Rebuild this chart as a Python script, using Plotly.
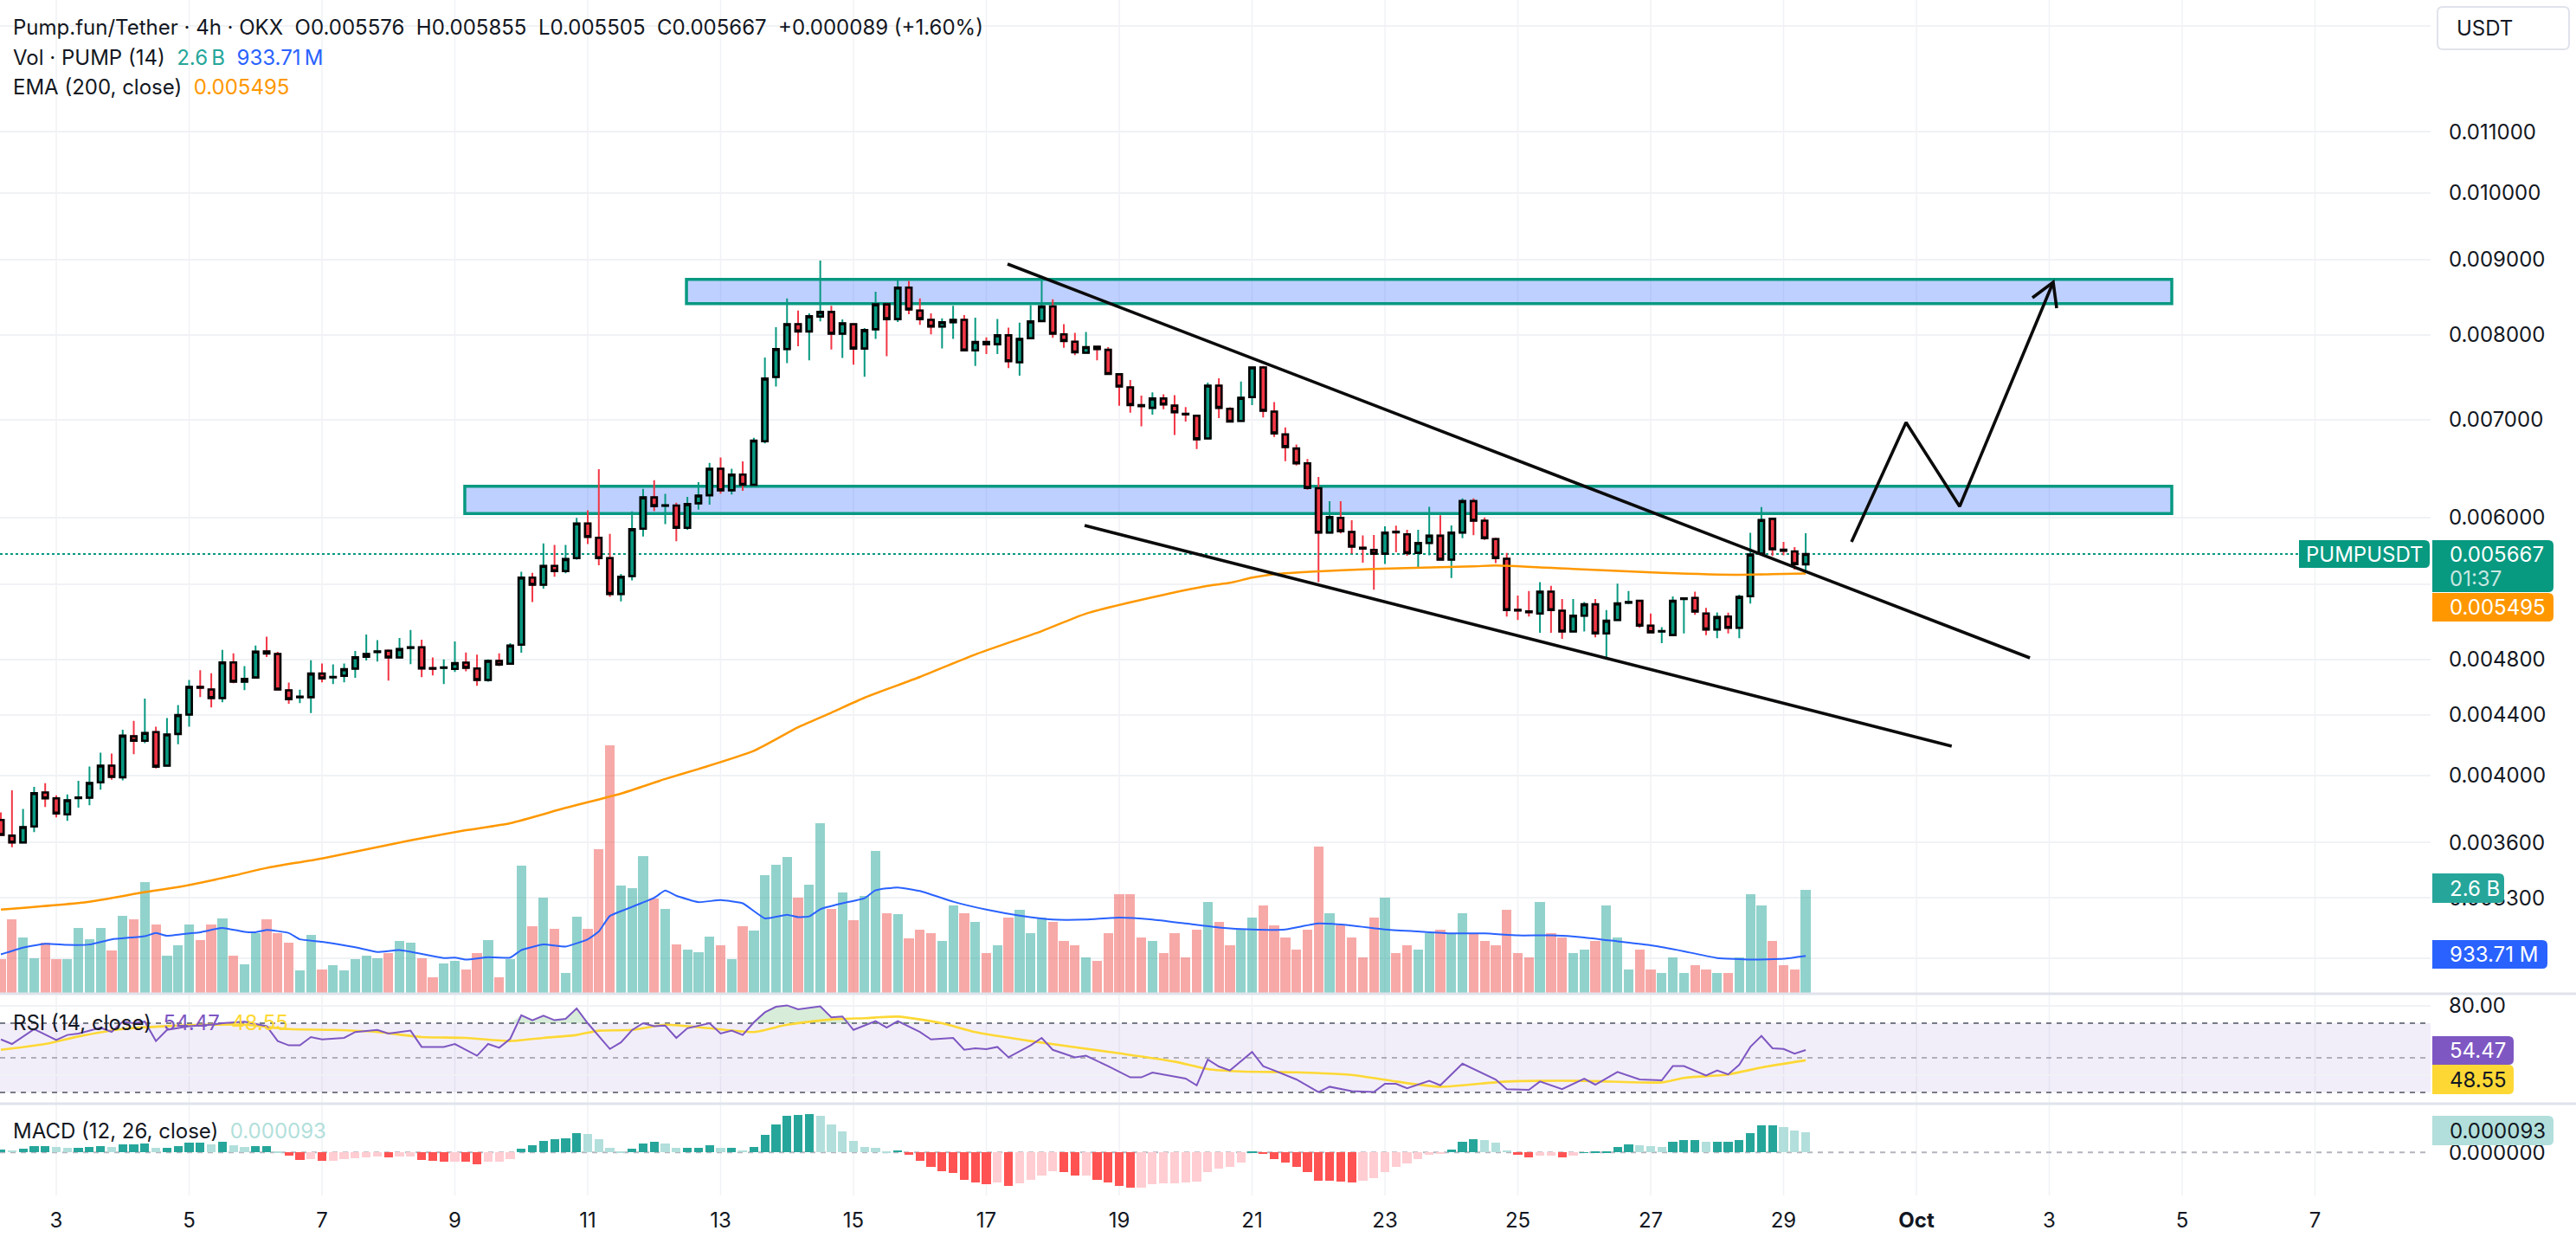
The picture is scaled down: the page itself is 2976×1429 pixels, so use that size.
import math
import pandas as pd
import plotly.graph_objects as go

# ------------------------------------------------------------------ data
START = "2025-09-02 04:00"   # open time of the first 4h bar
BAR_HOURS = 4

opens = [
0.003731,0.003640,0.003601,0.003693,0.003895,0.003860,0.003764,0.003861,0.003864,0.003958,
0.004063,0.003990,0.004255,0.004225,0.004283,0.004063,0.004271,0.004403,0.004598,0.004580,
0.004519,0.004779,0.004636,0.004667,0.004863,0.004843,0.004574,0.004525,0.004525,0.004696,
0.004669,0.004680,0.004733,0.004822,0.004858,0.004867,0.004816,0.004890,0.004894,0.004736,
0.004739,0.004730,0.004777,0.004734,0.004649,0.004790,0.004769,0.004914,0.005461,0.005400,
0.005562,0.005517,0.005630,0.005945,0.005813,0.005630,0.005322,0.005473,0.005897,0.006194,
0.006114,0.006116,0.005905,0.006137,0.006215,0.006479,0.006264,0.006420,0.006318,0.006766,
0.007484,0.007821,0.008132,0.008040,0.008231,0.008290,0.008011,0.008132,0.007827,0.008068,
0.008389,0.008198,0.008613,0.008308,0.008187,0.008102,0.008157,0.008187,0.007804,0.007907,
0.007880,0.007991,0.007659,0.007955,0.008172,0.008363,0.008003,0.007911,0.007776,0.007848,
0.007811,0.007517,0.007363,0.007160,0.007130,0.007236,0.007155,0.007064,0.007043,0.006796,
0.007384,0.007120,0.006985,0.007251,0.007597,0.007088,0.006838,0.006689,0.006535,0.006284,
0.005861,0.005998,0.005866,0.005722,0.005703,0.005670,0.005869,0.005845,0.005677,0.005766,
0.005832,0.005617,0.005861,0.006158,0.005971,0.005801,0.005625,0.005191,0.005178,0.005161,
0.005341,0.005184,0.005017,0.005143,0.005236,0.005002,0.005108,0.005250,0.005265,0.005063,
0.005017,0.004989,0.005280,0.005289,0.005161,0.005033,0.005136,0.005046,0.005303,0.005670,
0.005989,0.005705,0.005690,0.005576]

highs = [
0.003775,0.003909,0.003796,0.003930,0.003953,0.003878,0.003883,0.003967,0.004057,0.004147,
0.004141,0.004299,0.004359,0.004515,0.004319,0.004379,0.004469,0.004649,0.004720,0.004698,
0.004874,0.004848,0.004751,0.004907,0.004976,0.004859,0.004630,0.004578,0.004795,0.004771,
0.004764,0.004771,0.004865,0.004994,0.004949,0.004876,0.004966,0.005029,0.004953,0.004816,
0.004801,0.004940,0.004854,0.004837,0.004801,0.004848,0.004925,0.005511,0.005501,0.005762,
0.005749,0.005749,0.005998,0.006070,0.006474,0.005848,0.005493,0.006059,0.006278,0.006363,
0.006228,0.006143,0.006200,0.006344,0.006540,0.006594,0.006479,0.006555,0.006802,0.007718,
0.008095,0.008467,0.008308,0.008272,0.008988,0.008371,0.008194,0.008140,0.008084,0.008558,
0.008408,0.008724,0.008704,0.008467,0.008272,0.008206,0.008371,0.008250,0.008216,0.007964,
0.008198,0.008087,0.008151,0.008378,0.008764,0.008456,0.008132,0.008022,0.008033,0.007850,
0.007845,0.007520,0.007449,0.007268,0.007307,0.007284,0.007274,0.007140,0.007045,0.007419,
0.007470,0.007136,0.007432,0.007600,0.007615,0.007194,0.006914,0.006730,0.006580,0.006397,
0.006157,0.006157,0.005976,0.005834,0.005839,0.005919,0.005924,0.005887,0.005887,0.006102,
0.006023,0.005927,0.006184,0.006184,0.006002,0.005813,0.005677,0.005309,0.005346,0.005421,
0.005391,0.005280,0.005280,0.005255,0.005280,0.005189,0.005408,0.005346,0.005265,0.005161,
0.005051,0.005302,0.005289,0.005341,0.005206,0.005170,0.005167,0.005316,0.005858,0.006101,
0.005990,0.005775,0.005729,0.005855]

lows = [
0.003639,0.003574,0.003598,0.003660,0.003808,0.003746,0.003726,0.003804,0.003818,0.003912,
0.003975,0.003970,0.004137,0.004210,0.004045,0.004060,0.004203,0.004319,0.004525,0.004453,
0.004489,0.004625,0.004576,0.004660,0.004820,0.004578,0.004479,0.004483,0.004413,0.004631,
0.004619,0.004631,0.004665,0.004793,0.004786,0.004644,0.004812,0.004766,0.004670,0.004682,
0.004619,0.004708,0.004713,0.004606,0.004636,0.004751,0.004766,0.004852,0.005255,0.005366,
0.005468,0.005497,0.005617,0.005757,0.005567,0.005297,0.005260,0.005436,0.005826,0.006062,
0.005939,0.005782,0.005887,0.006076,0.006124,0.006230,0.006222,0.006259,0.006293,0.006742,
0.007373,0.007649,0.007855,0.007683,0.008167,0.007814,0.007711,0.007631,0.007487,0.007947,
0.007734,0.008160,0.008261,0.008124,0.008003,0.007827,0.007947,0.007800,0.007615,0.007759,
0.007759,0.007590,0.007501,0.007950,0.008165,0.007961,0.007837,0.007745,0.007770,0.007683,
0.007511,0.007153,0.007075,0.006926,0.007055,0.007114,0.006832,0.006978,0.006682,0.006790,
0.007017,0.006968,0.006980,0.007162,0.007023,0.006811,0.006556,0.006513,0.006270,0.005421,
0.005858,0.005853,0.005670,0.005591,0.005358,0.005578,0.005683,0.005651,0.005542,0.005655,
0.005612,0.005456,0.005809,0.005836,0.005793,0.005586,0.005136,0.005108,0.005136,0.005006,
0.005006,0.004960,0.005017,0.005017,0.004971,0.004816,0.005106,0.005236,0.005046,0.005011,
0.004926,0.004985,0.005002,0.005150,0.004988,0.004964,0.005002,0.004964,0.005243,0.005668,
0.005650,0.005655,0.005530,0.005505]

closes = [
0.003644,0.003601,0.003689,0.003891,0.003860,0.003769,0.003848,0.003865,0.003954,0.004063,
0.003992,0.004259,0.004225,0.004277,0.004057,0.004267,0.004399,0.004599,0.004592,0.004519,
0.004779,0.004636,0.004657,0.004861,0.004846,0.004580,0.004511,0.004528,0.004696,0.004661,
0.004671,0.004728,0.004818,0.004843,0.004862,0.004816,0.004880,0.004894,0.004734,0.004732,
0.004742,0.004773,0.004738,0.004649,0.004790,0.004763,0.004907,0.005461,0.005400,0.005562,
0.005517,0.005622,0.005945,0.005821,0.005630,0.005322,0.005468,0.005892,0.006194,0.006110,
0.006118,0.005905,0.006129,0.006212,0.006479,0.006264,0.006420,0.006318,0.006772,0.007466,
0.007821,0.008132,0.008040,0.008234,0.008290,0.008011,0.008143,0.007827,0.008057,0.008389,
0.008198,0.008613,0.008323,0.008198,0.008102,0.008157,0.008187,0.007804,0.007907,0.007880,
0.007991,0.007672,0.007947,0.008167,0.008363,0.008011,0.007921,0.007780,0.007845,0.007821,
0.007521,0.007373,0.007162,0.007150,0.007236,0.007168,0.007081,0.007058,0.006787,0.007384,
0.007130,0.006978,0.007243,0.007597,0.007098,0.006850,0.006705,0.006535,0.006287,0.005861,
0.006006,0.005874,0.005733,0.005715,0.005670,0.005861,0.005863,0.005675,0.005766,0.005832,
0.005617,0.005861,0.006158,0.005971,0.005809,0.005630,0.005189,0.005185,0.005172,0.005341,
0.005189,0.005017,0.005143,0.005236,0.005002,0.005102,0.005243,0.005254,0.005063,0.005011,
0.005020,0.005265,0.005284,0.005177,0.005033,0.005132,0.005046,0.005297,0.005662,0.005978,
0.005709,0.005696,0.005578,0.005667]

# volume per bar, in billions of PUMP
volume_b = [
0.86,1.86,1.39,0.87,1.26,0.86,0.86,1.64,1.35,1.64,
1.07,1.94,1.86,2.79,1.72,0.94,1.20,1.72,1.33,1.72,
1.88,0.94,0.72,1.51,1.86,1.51,1.27,0.57,1.46,0.59,
0.70,0.57,0.85,0.94,0.87,1.00,1.31,1.27,0.87,0.39,
0.74,0.81,0.59,1.00,1.33,0.39,0.85,3.20,1.68,2.40,
1.62,0.50,1.92,1.62,3.62,6.24,2.71,2.64,3.45,2.38,
2.12,1.22,1.09,1.03,1.42,1.20,0.85,1.68,1.57,2.97,
3.23,3.43,2.40,2.73,4.28,2.12,2.53,1.83,2.45,3.58,
2.01,1.99,1.38,1.6,1.5,1.3,2.2,2.0,1.8,1.0,
1.2,1.9,2.1,1.5,1.9,1.8,1.3,1.2,0.9,0.8,
1.5,2.5,2.5,1.4,1.3,1.0,1.5,0.9,1.6,2.3,
1.8,1.2,1.6,1.9,2.2,1.7,1.4,1.1,1.6,3.7,
2.0,1.7,1.4,0.9,1.9,2.4,1.0,1.2,1.1,1.5,
1.6,1.5,2.0,1.5,1.3,1.2,2.1,1.0,0.9,2.3,
1.5,1.4,1.0,1.1,1.3,2.2,1.4,0.6,1.1,0.6,
0.5,0.9,0.5,0.7,0.6,0.5,0.5,0.9,2.5,2.2,
1.3,0.7,0.6,2.6]

# volume MA(14), read at bar indices (billions)
volma_bar = [0,2,4,6,8,10,13,14,15,17,18,20,22,23,24,26,27,29,32,34,36,40,41,42,44,46,47,49,51,53,
             54,55,57,59,60,61,63,65,67,69,71,72,73,74,76,78,79,81,83,86,89,92,95,98,101,104,107,110,113,116,
             119,122,125,128,131,134,137,140,143,146,149,152,155,158,161,163]
volma_val = [0.97,1.14,1.24,1.21,1.22,1.35,1.43,1.51,1.44,1.50,1.53,1.64,1.54,1.53,1.59,1.51,1.35,1.29,1.15,1.03,
             1.08,0.88,0.89,0.84,0.90,0.89,1.08,1.22,1.17,1.35,1.55,1.94,2.17,2.40,2.58,2.45,2.29,2.34,2.26,1.88,
             1.97,1.91,1.93,2.11,2.26,2.39,2.59,2.66,2.57,2.30,2.10,1.95,1.85,1.85,1.90,1.85,1.75,1.65,1.60,1.60,
             1.75,1.70,1.60,1.55,1.50,1.50,1.45,1.45,1.40,1.30,1.20,1.05,0.88,0.84,0.86,0.93371]

# EMA(200, close), read at bar indices
ema_bar = [0,8,13,16,21,24,29,37,42,46,51,56,60,63,68,72,75,78,83,88,
           94,98,104,109,111,113,115,119,124,133,135,142,150,157,160,163]
ema_val = [0.003241,0.003281,0.003331,0.003357,0.003418,0.003460,0.003512,0.003613,0.003671,0.003712,
           0.003802,0.003889,0.003979,0.004042,0.004159,0.004316,0.004416,0.004521,0.004671,0.004839,
           0.005020,0.005160,0.005294,0.005391,0.005416,0.005460,0.005490,0.005515,0.005535,0.005558,
           0.005565,0.005535,0.005502,0.005485,0.005490,0.005495]

# RSI(14) and its MA, read at bar indices
rsi_bar = [0,1,3,5,6,7,9,10,11,12,13,14,15,17,19,20,22,24,25,26,27,28,29,31,32,34,35,37,38,40,
           41,43,44,45,46,47,48,49,50,51,52,53,55,56,57,58,59,60,61,62,64,65,66,67,68,69,70,71,72,74,
           75,76,77,79,80,81,83,84,86,87,88,89,90,91,93,94,95,97,98,100,102,103,104,106,107,108,109,110,111,113,
           114,115,117,119,120,122,124,125,126,127,129,130,132,135,136,138,139,141,143,144,146,148,150,151,152,154,155,156,157,158,
           159,160,161,162,163]
rsi_val = [60.6,58.0,66.6,60.3,63.2,64.0,67.4,65.0,70.9,70.0,70.9,59.7,66.1,68.3,69.1,70.0,70.9,68.3,59.7,57.2,
           57.2,62.0,60.6,61.5,64.9,66.1,64.0,65.7,56.3,56.3,58.0,51.2,58.0,55.8,61.0,74.6,71.7,74.3,71.7,72.5,
           78.5,70.0,55.1,58.9,66.0,70.0,68.3,68.6,61.5,67.1,70.0,64.0,65.7,63.2,70.5,76.3,79.5,80.3,78.0,79.7,
           73.4,73.9,66.1,71.2,67.4,71.2,64.9,60.6,61.5,54.6,55.5,55.0,56.3,50.3,57.2,61.5,54.6,50.3,51.2,45.2,
           38.7,38.7,41.5,39.2,38.0,34.1,49.0,45.0,42.7,53.4,45.2,42.7,37.5,30.2,33.3,30.7,30.2,35.0,35.0,32.4,
           36.7,34.1,46.6,37.5,31.9,31.5,36.3,31.9,38.0,34.5,41.8,37.5,37.0,45.2,45.2,39.8,42.7,40.4,46.0,56.3,
           62.6,55.5,55.1,52.4,54.47]
rsima_bar = [0,4,7,11,15,19,22,26,30,34,38,42,46,49,52,54,57,60,64,68,
             71,75,78,81,85,88,93,101,106,109,112,117,122,126,130,136,143,150,152,156,159,163]
rsima_val = [54.6,58.0,62.3,66.6,68.3,69.1,69.1,66.6,66.1,64.9,62.0,61.5,59.7,61.5,63.2,65.7,66.1,69.1,67.1,64.9,
             69.1,72.2,72.9,73.8,70.0,64.9,59.7,52.6,47.8,43.5,42.1,41.6,40.1,36.3,33.3,36.3,36.7,35.8,38.4,40.4,
             44.4,48.55]

# MACD(12, 26) histogram per bar, in millionths
macd_hist_e6 = [
15,8,18,29,31,24,23,23,24,30,
27,39,39,42,23,23,29,44,44,37,
48,34,26,30,31,7,-16,-34,-30,-37,
-37,-30,-27,-23,-19,-23,-20,-20,-34,-39,
-44,-41,-44,-53,-44,-44,-31,18,34,54,
61,67,88,86,63,22,3,18,42,48,
42,23,23,23,34,23,23,11,26,80,
129,170,175,178,170,129,99,53,27,22,
4,11,-10,-39,-67,-86,-94,-126,-140,-147,
-140,-155,-143,-125,-105,-88,-91,-105,-105,-126,
-140,-155,-163,-163,-146,-143,-141,-139,-135,-91,
-75,-68,-48,3,-7,-30,-48,-67,-91,-129,
-132,-136,-139,-129,-118,-91,-67,-50,-31,-10,
-5,15,49,63,58,45,11,-11,-23,-16,
-16,-24,-16,1,3,7,24,38,34,31,
27,48,58,58,48,48,48,56,88,125,
125,117,102,93]

# axis ticks (labels of the levels that sit under price-scale badges are not shown)
price_ticks = [0.013, 0.011, 0.010, 0.009, 0.008, 0.007, 0.006, 0.0054, 0.0048, 0.0044, 0.0040, 0.0036, 0.0033, 0.0030]
price_tick_text = ["", "0.011000", "0.010000", "0.009000", "0.008000", "0.007000", "0.006000", "",
                   "0.004800", "0.004400", "0.004000", "0.003600", "0.003300", ""]
rsi_ticks = [80, 40]
rsi_tick_text = ["80.00", ""]
date_ticks = ["2025-09-03", "2025-09-05", "2025-09-07", "2025-09-09", "2025-09-11", "2025-09-13",
              "2025-09-15", "2025-09-17", "2025-09-19", "2025-09-21", "2025-09-23", "2025-09-25",
              "2025-09-27", "2025-09-29", "2025-10-01", "2025-10-03", "2025-10-05", "2025-10-07"]
date_tick_text = ["3", "5", "7", "9", "11", "13", "15", "17", "19", "21", "23", "25", "27", "29",
                  "<b>Oct</b>", "3", "5", "7"]

# analyst drawings (time, price anchors)
zone_high_t = ["2025-09-12 11:40", "2025-10-04 20:15"]
zone_high_p = [0.008400, 0.008726]
zone_low_t = ["2025-09-09 03:35", "2025-10-04 20:15"]
zone_low_p = [0.006038, 0.006304]
upper_line_t = ["2025-09-17 07:40", "2025-10-02 17:00"]
upper_line_p = [0.008939, 0.004813]
lower_line_t = ["2025-09-18 11:30", "2025-10-01 12:45"]
lower_line_p = [0.005927, 0.004190]
path_t = ["2025-09-30 00:33", "2025-09-30 20:15", "2025-10-01 15:37", "2025-10-03 01:25"]
path_p = [0.005776, 0.006968, 0.006107, 0.008687]
head_t = ["2025-10-02 17:54", "2025-10-03 01:25", "2025-10-03 02:40"]
head_p = [0.008477, 0.008687, 0.008339]

# ---------------------------------------------------------------- styling
UP, DN = "#089981", "#F23645"
TXT, GRID, SEP = "#131722", "#f0f2f5", "#e0e3eb"
FONT = "Inter, Roboto, 'Noto Sans', sans-serif"
FS = 24

W, H = 2976, 1429
PLOT_R, PLOT_B = 2808, 1381          # right / bottom edge of the panes (px)
PRICE_BOT = 1147
RSI_TOP, RSI_BOT = 1149, 1274
MACD_TOP = 1276
SEP3_X, DAY_PX = 65, 76.75           # x of Sep 3 00:00, pixels per day
REF_P, REF_Y, PX_LN = 0.006, 598, 735  # log price scale calibration
VOL_PX = 45.8                         # px per billion
RSI50_Y, RSI_PX = 1222, 2.0
MACD0_Y, MACD_PX = 1331.3, 4.0        # px of zero line, millionths per px


def yp(p):
    return (PLOT_B - p) / PLOT_B


def xp(p):
    return p / PLOT_R


t0 = pd.Timestamp(START)


def tk(k):
    return t0 + pd.Timedelta(hours=BAR_HOURS * k)


times = [tk(k) for k in range(len(opens))]
sep3 = pd.Timestamp("2025-09-03")
x_left = sep3 - pd.Timedelta(days=SEP3_X / DAY_PX)
x_right = sep3 + pd.Timedelta(days=(PLOT_R - SEP3_X) / DAY_PX)

p_top = REF_P * math.exp(REF_Y / PX_LN)
p_bot = REF_P * math.exp((REF_Y - PRICE_BOT) / PX_LN)

fig = go.Figure()

# volume (base axis y, drawn beneath price traces)
vol_colors = ["rgba(38,166,154,0.5)" if c >= o else "rgba(239,83,80,0.5)" for o, c in zip(opens, closes)]
fig.add_trace(go.Bar(x=times, y=volume_b, marker=dict(color=vol_colors, line=dict(width=0)),
                     width=0.88 * BAR_HOURS * 3600 * 1000, xaxis="x", yaxis="y",
                     hoverinfo="skip", showlegend=False))
fig.add_trace(go.Scatter(x=[tk(k) for k in volma_bar], y=volma_val, mode="lines",
                         line=dict(color="#2962FF", width=2, shape="spline", smoothing=0.4),
                         xaxis="x", yaxis="y", hoverinfo="skip", showlegend=False))

# EMA
fig.add_trace(go.Scatter(x=[tk(k) for k in ema_bar], y=ema_val, mode="lines",
                         line=dict(color="#FF9800", width=2.5, shape="spline", smoothing=0.6),
                         xaxis="x", yaxis="y2", hoverinfo="skip", showlegend=False))

# candles: coloured wicks, then black-outlined bodies
fig.add_trace(go.Candlestick(x=times, open=opens, high=highs, low=lows, close=closes,
                             increasing=dict(line=dict(color=UP, width=2), fillcolor=UP),
                             decreasing=dict(line=dict(color=DN, width=2), fillcolor=DN),
                             whiskerwidth=0, xaxis="x", yaxis="y2", hoverinfo="skip", showlegend=False))
body_hi = [max(o, c) for o, c in zip(opens, closes)]
body_lo = [min(o, c) for o, c in zip(opens, closes)]
fig.add_trace(go.Candlestick(x=times, open=opens, high=body_hi, low=body_lo, close=closes,
                             increasing=dict(line=dict(color="#000000", width=2.6), fillcolor=UP),
                             decreasing=dict(line=dict(color="#000000", width=2.6), fillcolor=DN),
                             whiskerwidth=0, xaxis="x", yaxis="y2", hoverinfo="skip", showlegend=False))

# drawings: trend lines and projected path
for tt, pp in [(upper_line_t, upper_line_p), (lower_line_t, lower_line_p), (path_t, path_p), (head_t, head_p)]:
    fig.add_trace(go.Scatter(x=tt, y=pp, mode="lines", line=dict(color="#0b0b0b", width=3.6),
                             xaxis="x", yaxis="y2", hoverinfo="skip", showlegend=False))

# RSI pane
rsi_x = [tk(k) for k in rsi_bar]
fig.add_trace(go.Scatter(x=rsi_x, y=[70] * len(rsi_x), mode="lines", line=dict(width=0),
                         xaxis="x", yaxis="y3", hoverinfo="skip", showlegend=False))
fig.add_trace(go.Scatter(x=rsi_x, y=[max(v, 70) for v in rsi_val], mode="lines", line=dict(width=0),
                         fill="tonexty", fillcolor="rgba(76,175,80,0.22)",
                         xaxis="x", yaxis="y3", hoverinfo="skip", showlegend=False))
fig.add_trace(go.Scatter(x=[tk(k) for k in rsima_bar], y=rsima_val, mode="lines",
                         line=dict(color="#FDD835", width=2.6, shape="spline", smoothing=0.6),
                         xaxis="x", yaxis="y3", hoverinfo="skip", showlegend=False))
fig.add_trace(go.Scatter(x=rsi_x, y=rsi_val, mode="lines", line=dict(color="#7E57C2", width=2),
                         xaxis="x", yaxis="y3", hoverinfo="skip", showlegend=False))

# MACD histogram
macd_vals = [v * 1e-6 for v in macd_hist_e6]
macd_cols = []
for i, v in enumerate(macd_hist_e6):
    prev = macd_hist_e6[i - 1] if i > 0 else v
    if v >= 0:
        macd_cols.append("#26A69A" if v >= prev else "#B2DFDB")
    else:
        macd_cols.append("#FF5252" if v < prev else "#FFCDD2")
fig.add_trace(go.Bar(x=times, y=macd_vals, marker=dict(color=macd_cols, line=dict(width=0)),
                     width=0.8 * BAR_HOURS * 3600 * 1000, xaxis="x", yaxis="y4",
                     hoverinfo="skip", showlegend=False))

# ---------------------------------------------------------------- shapes
shapes = []
for d in date_ticks:
    shapes.append(dict(type="line", xref="x", yref="paper", x0=d, x1=d, y0=0, y1=1,
                       line=dict(color=GRID, width=1.5), layer="below"))
for zt, zp in [(zone_high_t, zone_high_p), (zone_low_t, zone_low_p)]:
    shapes.append(dict(type="rect", xref="x", yref="y2", x0=zt[0], x1=zt[1], y0=zp[0], y1=zp[1],
                       fillcolor="rgba(41,98,255,0.3)", line=dict(color=UP, width=3.5), layer="below"))
# last price dotted line
shapes.append(dict(type="line", xref="paper", yref="y2", x0=0, x1=1, y0=closes[-1], y1=closes[-1],
                   line=dict(color=UP, width=2, dash="dot"), layer="below"))
# RSI band and levels
shapes.append(dict(type="rect", xref="paper", yref="y3", x0=0, x1=1, y0=30, y1=70,
                   fillcolor="rgba(126,87,194,0.1)", line=dict(width=0), layer="below"))
for lvl, col in [(70, "#787B86"), (50, "rgba(120,123,134,0.55)"), (30, "#787B86")]:
    shapes.append(dict(type="line", xref="paper", yref="y3", x0=0, x1=1, y0=lvl, y1=lvl,
                       line=dict(color=col, width=2, dash="6px,6px"), layer="below"))
# MACD zero
shapes.append(dict(type="line", xref="paper", yref="y4", x0=0, x1=1, y0=0, y1=0,
                   line=dict(color="#B2B5BE", width=2, dash="6px,6px"), layer="below"))
# pane separators
for sy in (1148, 1275):
    shapes.append(dict(type="line", xref="paper", yref="paper", x0=0, x1=W / PLOT_R, y0=yp(sy), y1=yp(sy),
                       line=dict(color=SEP, width=3), layer="above"))


def box_path(x0, x1, y0, y1, r=6, all_round=False):
    rx, ry = r / PLOT_R, r / PLOT_B
    X0, X1, Y0, Y1 = xp(x0), xp(x1), yp(y0), yp(y1)
    if all_round:
        return (f"M{X0+rx},{Y0} L{X1-rx},{Y0} Q{X1},{Y0} {X1},{Y0-ry} L{X1},{Y1+ry} Q{X1},{Y1} {X1-rx},{Y1} "
                f"L{X0+rx},{Y1} Q{X0},{Y1} {X0},{Y1+ry} L{X0},{Y0-ry} Q{X0},{Y0} {X0+rx},{Y0} Z")
    return (f"M{X0},{Y0} L{X1-rx},{Y0} Q{X1},{Y0} {X1},{Y0-ry} L{X1},{Y1+ry} Q{X1},{Y1} {X1-rx},{Y1} "
            f"L{X0},{Y1} Z")


annotations = []


def label(x0, x1, y0, y1, fill, text, tcolor, tx=2828, ty=None, border=None, all_round=False, center=False):
    shapes.append(dict(type="path", xref="paper", yref="paper", path=box_path(x0, x1, y0, y1, 6, all_round),
                       fillcolor=fill, line=dict(color=border or fill, width=2 if border else 0), layer="above"))
    cy = (y0 + y1) / 2 if ty is None else ty
    annotations.append(dict(xref="paper", yref="paper", x=xp((x0 + x1) / 2 if center else tx), y=yp(cy),
                            xanchor="center" if center else "left", yanchor="middle", showarrow=False,
                            text=text, font=dict(size=FS, color=tcolor, family=FONT)))


last_vol = volume_b[-1]
last_volma = volma_val[-1]
label(2816, 2968, 8, 57, "#ffffff", "USDT", TXT, tx=2836, border=SEP, all_round=True)
label(2656, 2807, 624, 656, UP, "PUMPUSDT", "#ffffff", center=True)
label(2810, 2950, 624, 684, UP, "%.6f" % closes[-1], "#ffffff", ty=640)
annotations.append(dict(xref="paper", yref="paper", x=xp(2828), y=yp(668), xanchor="left", yanchor="middle",
                        showarrow=False, text="01:37", font=dict(size=FS, color="rgba(255,255,255,0.78)", family=FONT)))
label(2810, 2950, 685, 718, "#FF9800", "%.6f" % ema_val[-1], "#ffffff")
label(2810, 2893, 1009, 1043, "#26A69A", "%.1f B" % last_vol, "#ffffff")
label(2810, 2943, 1086, 1119, "#2962FF", "%.2f M" % (last_volma * 1000), "#ffffff")
label(2810, 2904, 1197, 1230, "#7E57C2", "%.2f" % rsi_val[-1], "#ffffff")
label(2810, 2904, 1230, 1264, "#FDD835", "%.2f" % rsima_val[-1], TXT)
label(2810, 2950, 1289, 1323, "#B2DFDB", "%.6f" % (macd_vals[-1]), TXT)

# legends (top-left of each pane)
S = "\u00a0\u00a0"
chg = closes[-1] - closes[-2]
pct = chg / closes[-2] * 100
row1 = (f"Pump.fun/Tether · 4h · OKX{S}O{opens[-1]:.6f}{S}H{highs[-1]:.6f}{S}L{lows[-1]:.6f}"
        f"{S}C{closes[-1]:.6f}{S}{chg:+.6f} ({pct:+.2f}%)")
row2 = (f"Vol · PUMP (14){S}<span style='color:#26A69A'>{last_vol:.1f}\u2009B</span>{S}"
        f"<span style='color:#2962FF'>{last_volma*1000:.2f}\u2009M</span>")
row3 = f"EMA (200, close){S}<span style='color:#FF9800'>{ema_val[-1]:.6f}</span>"
row_rsi = (f"RSI (14, close){S}<span style='color:#7E57C2'>{rsi_val[-1]:.2f}</span>{S}"
           f"<span style='color:#FDD835'>{rsima_val[-1]:.2f}</span>")
row_macd = f"MACD (12, 26, close){S}<span style='color:#B2DFDB'>{macd_vals[-1]:.6f}</span>"
for txt, yy in [(row1, 31), (row2, 66), (row3, 100), (row_rsi, 1181), (row_macd, 1306)]:
    annotations.append(dict(xref="paper", yref="paper", x=xp(13), y=yp(yy), xanchor="left", yanchor="middle",
                            showarrow=False, text=txt, font=dict(size=FS, color=TXT, family=FONT)))

axis_font = dict(size=FS, color=TXT, family=FONT)
fig.update_layout(
    width=W, height=H,
    margin=dict(l=0, r=W - PLOT_R, t=0, b=H - PLOT_B, autoexpand=False),
    paper_bgcolor="#ffffff", plot_bgcolor="#ffffff",
    font=dict(family=FONT, color=TXT, size=FS),
    showlegend=False, hovermode=False, bargap=0,
    xaxis=dict(type="date", range=[str(x_left), str(x_right)], domain=[0, 1], anchor="y4",
               tickmode="array", tickvals=date_ticks, ticktext=date_tick_text, tickfont=axis_font,
               showgrid=False, zeroline=False, showline=False, ticks="", ticklabelstandoff=12,
               rangeslider=dict(visible=False), fixedrange=True),
    yaxis=dict(domain=[yp(PRICE_BOT), 1], range=[0, PRICE_BOT / VOL_PX], anchor="x",
               visible=False, showgrid=False, zeroline=False, fixedrange=True),
    yaxis2=dict(type="log", overlaying="y", anchor="x", side="right",
                range=[math.log10(p_bot), math.log10(p_top)],
                tickmode="array", tickvals=price_ticks, ticktext=price_tick_text, tickfont=axis_font,
                showgrid=True, gridcolor=GRID, gridwidth=1.5, zeroline=False, showline=False,
                ticks="", ticklabelstandoff=20, fixedrange=True),
    yaxis3=dict(domain=[yp(RSI_BOT), yp(RSI_TOP)], anchor="x", side="right",
                range=[50 - (RSI_BOT - RSI50_Y) / RSI_PX, 50 + (RSI50_Y - RSI_TOP) / RSI_PX],
                tickmode="array", tickvals=rsi_ticks, ticktext=rsi_tick_text, tickfont=axis_font,
                showgrid=True, gridcolor=GRID, gridwidth=1.5, zeroline=False, showline=False,
                ticks="", ticklabelstandoff=20, fixedrange=True),
    yaxis4=dict(domain=[0, yp(MACD_TOP)], anchor="x", side="right",
                range=[-(PLOT_B - MACD0_Y) * MACD_PX * 1e-6, (MACD0_Y - MACD_TOP) * MACD_PX * 1e-6],
                tickmode="array", tickvals=[0], ticktext=["0.000000"], tickfont=axis_font,
                showgrid=False, zeroline=False, showline=False, ticks="", ticklabelstandoff=20,
                fixedrange=True),
    shapes=shapes,
    annotations=annotations,
)

fig.write_html("out.html", include_plotlyjs=True, config={"displayModeBar": False})
